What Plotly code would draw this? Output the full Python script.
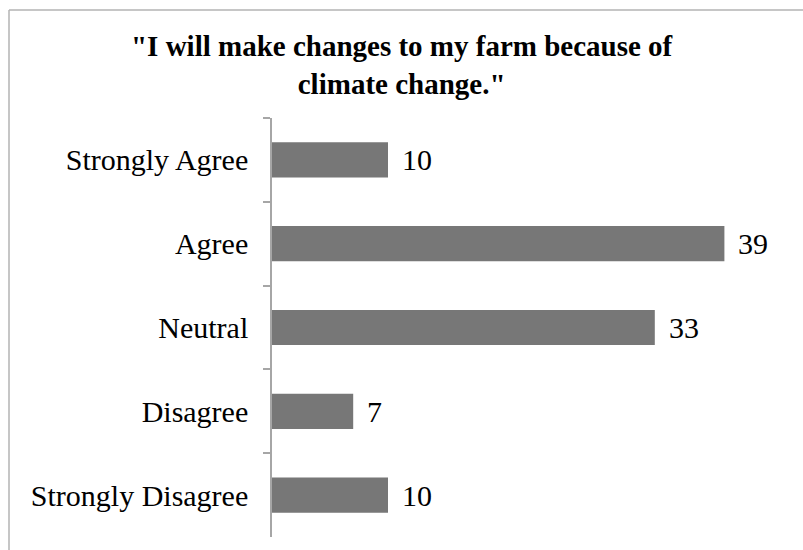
import plotly.graph_objects as go

# Survey responses, listed top to bottom
categories = ["Strongly Agree", "Agree", "Neutral", "Disagree", "Strongly Disagree"]
counts = [10, 39, 33, 7, 10]

title_text = '"I will make changes to my farm because of<br>climate change."'

serif = "Liberation Serif, Times New Roman, serif"
bar_color = "#777777"
axis_color = "#a6a6a6"

fig = go.Figure(
    go.Bar(
        x=counts,
        y=categories,
        orientation="h",
        marker=dict(color=bar_color, line=dict(width=0)),
        hoverinfo="skip",
    )
)

# Value labels to the right of each bar
for cat, val in zip(categories, counts):
    fig.add_annotation(
        x=val, y=cat, text=str(val), showarrow=False,
        xanchor="left", yanchor="middle", xshift=12,
        font=dict(family=serif, size=30, color="#000000"),
    )

W, H = 803, 550
ml, mr, mt, mb = 272, 9, 118, 13
pw, ph = W - ml - mr, H - mt - mb

# Chart title, centred across the full width
fig.add_annotation(
    text=title_text, showarrow=False,
    xref="paper", yref="paper",
    x=(W / 2 - ml) / pw, y=1 + (mt - 65) / ph,
    xanchor="center", yanchor="middle", align="center",
    font=dict(family=serif, size=29, color="#000000", weight="bold"),
)

# Light frame along the top and left edges of the chart area
fx0 = (9 - ml) / pw
fy0 = 1 + (mt - 10) / ph
fig.add_shape(type="line", xref="paper", yref="paper",
              x0=fx0, x1=1 + mr / pw + 0.01, y0=fy0, y1=fy0,
              line=dict(color="#b3b3b3", width=1.5))
fig.add_shape(type="line", xref="paper", yref="paper",
              x0=fx0, x1=fx0, y0=fy0, y1=-mb / ph - 0.01,
              line=dict(color="#b3b3b3", width=1.5))

fig.update_layout(
    width=W, height=H,
    margin=dict(l=ml, r=mr, t=mt, b=mb, pad=0),
    paper_bgcolor="white", plot_bgcolor="white",
    bargap=0.58,
    showlegend=False,
    xaxis=dict(range=[0, 45], visible=False, fixedrange=True),
    yaxis=dict(
        autorange="reversed",
        showline=True, linecolor=axis_color, linewidth=1.5,
        ticks="outside", ticklen=7, tickcolor=axis_color, tickwidth=1.5,
        tickson="boundaries",
        showgrid=False, zeroline=False,
        tickfont=dict(family=serif, size=30, color="#000000"),
        ticklabelstandoff=16,
    ),
)

fig.write_html("out.html")
